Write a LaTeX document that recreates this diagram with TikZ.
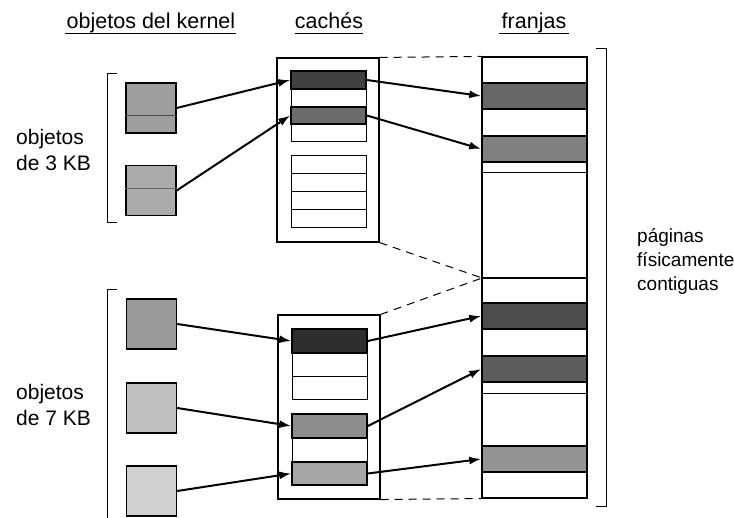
\documentclass[tikz,border=0pt]{standalone}
\usepackage{fontspec}
\setmainfont{Liberation Sans}
\usetikzlibrary{arrows.meta}
\begin{document}
\begin{tikzpicture}[x=1pt,y=-1pt,
  lbl/.style={font=\fontsize{21}{25}\selectfont, inner sep=0pt, anchor=base west},
  rlbl/.style={font=\fontsize{19}{24}\selectfont, inner sep=0pt, anchor=base west},
  hdr/.style={font=\fontsize{21.5}{25}\selectfont, inner sep=0pt, anchor=base},
  uline/.style={line width=1pt},
  kbox/.style={draw, line width=1.4pt, minimum width=50pt, minimum height=50pt, inner sep=0pt},
  cslab/.style={draw, line width=1.6pt, minimum width=75pt, inner sep=0pt},
  fslab/.style={draw, line width=1.5pt, minimum width=105pt, inner sep=0pt},
  row/.style={draw, line width=1pt},
  outer/.style={draw, line width=1.1pt},
  brk/.style={line width=1pt},
  dsh/.style={line width=1pt, dash pattern=on 8pt off 6pt},
  arr/.style={line width=2pt, -{Latex[length=12pt,width=8pt]}}
]
\useasboundingbox (0,0) rectangle (734,518);

% headers
\node[hdr] (h1) at (151,29) {objetos del kernel};
\node[hdr] (h2) at (329,29) {cachés};
\node[hdr] (h3) at (534,29) {franjas};
\draw[uline] ([xshift=-2pt,yshift=-4.5pt]h1.base west) -- ([xshift=1pt,yshift=-4.5pt]h1.base east);
\draw[uline] ([yshift=-4.5pt]h2.base west) -- ([yshift=-4.5pt]h2.base east);
\draw[uline] ([xshift=-3pt,yshift=-4.5pt]h3.base west) -- ([xshift=3pt,yshift=-4.5pt]h3.base east);

% left labels
\node[lbl] (l3a) at (16,145) {objetos};
\node[lbl] (l3b) at (16,171) {de 3 KB};
\node[lbl] (l7a) at (16,400) {objetos};
\node[lbl] (l7b) at (16,426) {de 7 KB};

% right label
\node[rlbl] (ra) at (637,243) {páginas};
\node[rlbl] (rb) at (637,267) {físicamente};
\node[rlbl] (rc) at (637,291) {contiguas};

% brackets
\draw[brk] (117,74) -- (107,74) -- (107,223) -- (117,223);
\draw[brk] (117,290) -- (107,290) -- (107,518);
\draw[brk] (596,49) -- (606,49) -- (606,507) -- (596,507);

% kernel objects
\node[kbox, fill=black!38] (k1) at (151,108) {};
\node[kbox, fill=black!33] (k2) at (151,190.5) {};
\node[kbox, fill=black!40] (k3) at (151.5,324) {};
\node[kbox, fill=black!25] (k4) at (151.5,408) {};
\node[kbox, fill=black!18] (k5) at (151.5,491) {};
\draw[line width=0.5pt, black!70] (k1.west |- 0,115) -- (k1.east |- 0,115);
\draw[line width=0.5pt, black!60] (k2.west |- 0,188) -- (k2.east |- 0,188);

% cache 1
\node[outer, minimum width=102pt, minimum height=184pt, inner sep=0pt] (c1) at (328,150) {};
\draw[row] (291,89) rectangle (366,107);
\draw[row] (291,124) rectangle (366,142);
\node[cslab, minimum height=18pt, fill=black!75] (s1) at (328.5,80) {};
\node[cslab, minimum height=17pt, fill=black!58] (s2) at (328.5,115.5) {};
\draw[row] (291,156) rectangle (366,174);
\draw[row] (291,174) rectangle (366,192);
\draw[row] (291,192) rectangle (366,210);
\draw[row] (291,210) rectangle (366,228);

% cache 2
\node[outer, minimum width=102pt, minimum height=184pt, inner sep=0pt] (c2) at (329,407) {};
\draw[row] (292,353) rectangle (367,377);
\draw[row] (292,377) rectangle (367,400);
\draw[row] (292,438) rectangle (367,462);
\node[cslab, minimum height=24pt, fill=black!82] (s3) at (329.5,341) {};
\node[cslab, minimum height=24pt, fill=black!45] (s4) at (329.5,426) {};
\node[cslab, minimum height=23pt, fill=black!35] (s5) at (329.5,473.5) {};

% franjas
\node[outer, minimum width=105pt, minimum height=441pt, inner sep=0pt] (fr) at (534.5,277.5) {};
\draw[line width=1pt] (482,173) -- (587,173);
\draw[line width=1.6pt] (482,278) -- (587,278);
\draw[line width=1pt] (482,394) -- (587,394);
\node[fslab, minimum height=26pt, fill=black!60] (f1) at (534.5,96) {};
\node[fslab, minimum height=26pt, fill=black!50] (f2) at (534.5,149) {};
\node[fslab, minimum height=26pt, fill=black!70] (f3) at (534.5,316) {};
\node[fslab, minimum height=26pt, fill=black!64] (f4) at (534.5,369) {};
\node[fslab, minimum height=26pt, fill=black!42] (f5) at (534.5,459) {};

% dashed correspondences
\coordinate (mid) at (482,278);
\draw[dsh] (c1.north east) -- (fr.north west);
\draw[dsh] (c1.south east) -- (mid);
\draw[dsh] (c2.north east) -- (mid);
\draw[dsh] (c2.south east) -- (fr.south west);

% arrows
\draw[arr] (k1.east) -- (s1.west);
\draw[arr] (k2.east) -- (s2.west);
\draw[arr] (k3.east) -- (s3.west);
\draw[arr] (k4.east) -- (s4.west);
\draw[arr] (k5.east) -- (s5.west);
\draw[arr] (s1.east) -- (f1.west);
\draw[arr] (s2.east) -- (f2.west);
\draw[arr] (s3.east) -- (f3.west);
\draw[arr] (s4.east) -- (f4.west);
\draw[arr] (s5.east) -- (f5.west);
\end{tikzpicture}
\end{document}
